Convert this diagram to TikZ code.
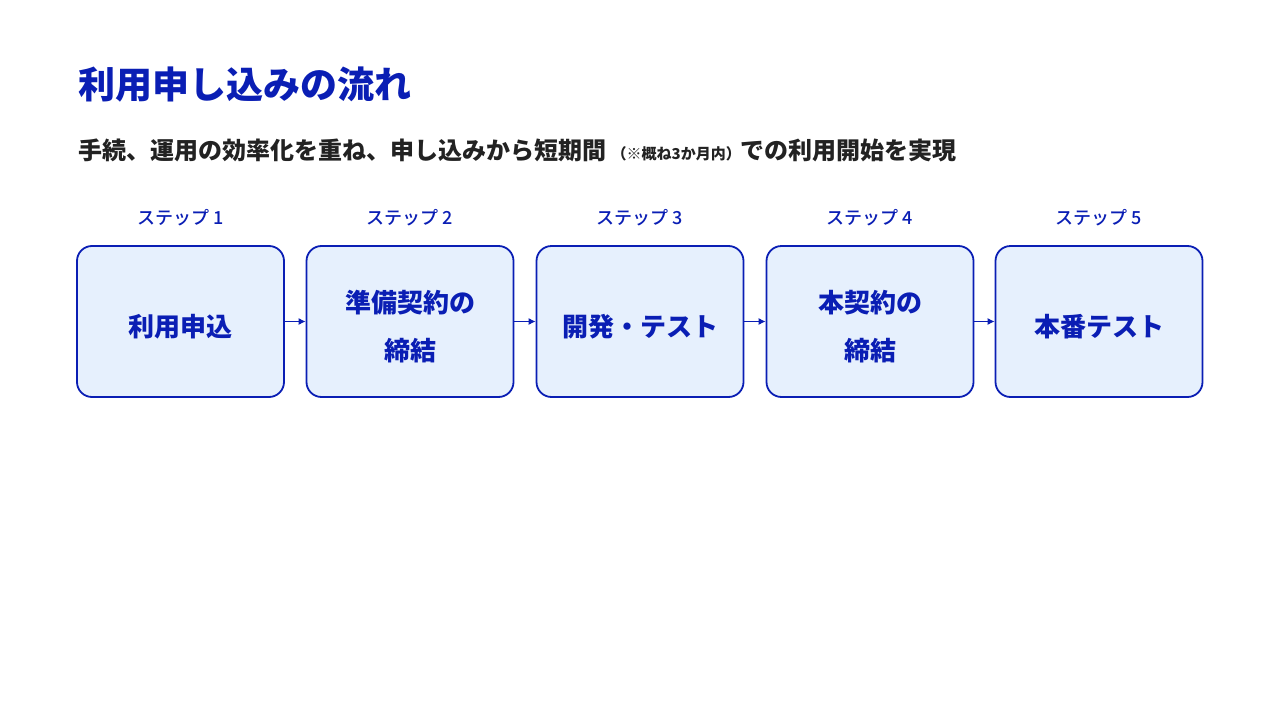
\documentclass[tikz,border=0pt]{standalone}
\usepackage{fontspec}
\setmainfont{Noto Sans CJK JP}
\newfontfamily\jpmedium{Noto Sans CJK JP Medium}
\usetikzlibrary{arrows.meta}
\definecolor{flowblue}{HTML}{0A1EB4}
\definecolor{boxfill}{HTML}{E6F0FD}
\definecolor{leadgray}{HTML}{222222}
\tikzset{
  stepbox/.style={draw=flowblue, line width=1.8pt, fill=boxfill, rounded corners=15pt,
    minimum width=207pt, minimum height=151pt, inner sep=0pt},
  boxtext/.style={text=flowblue, font=\fontsize{26}{48}\selectfont\bfseries, align=center},
  steplabel/.style={text=flowblue, font=\fontsize{18}{20}\selectfont\jpmedium},
  flowarrow/.style={draw=flowblue, line width=1pt, -{Latex[length=7pt,width=7pt]}}
}
\begin{document}
\begin{tikzpicture}[x=1pt,y=-1pt]
\useasboundingbox (0,0) rectangle (1280,720);
\node[anchor=west, inner sep=0pt, text=flowblue, font=\fontsize{37}{40}\selectfont\bfseries] (title) at (78,85) {利用申し込みの流れ};
\node[anchor=west, inner sep=0pt, text=leadgray, font=\fontsize{24}{28}\selectfont\bfseries] (lead) at (78,150)
  {手続、運用の効率化を重ね、申し込みから短期間 {\fontsize{15}{16}\selectfont（※概ね3か月内）}での利用開始を実現};
\foreach \n/\x/\txt in {1/180.5/{利用申込}, 2/410/{準備契約の\\締結}, 3/640/{開発・テスト}, 4/870/{本契約の\\締結}, 5/1099/{本番テスト}} {
  \node[stepbox] (box\n) at (\x,321.5) {};
  \node[boxtext] (text\n) at (\x,327) {\txt};
  \node[steplabel] (label\n) at (\x,217.5) {ステップ \n};
}
\foreach \a/\b in {1/2,2/3,3/4,4/5}
  \draw[flowarrow] (box\a) -- (box\b);
\end{tikzpicture}
\end{document}
